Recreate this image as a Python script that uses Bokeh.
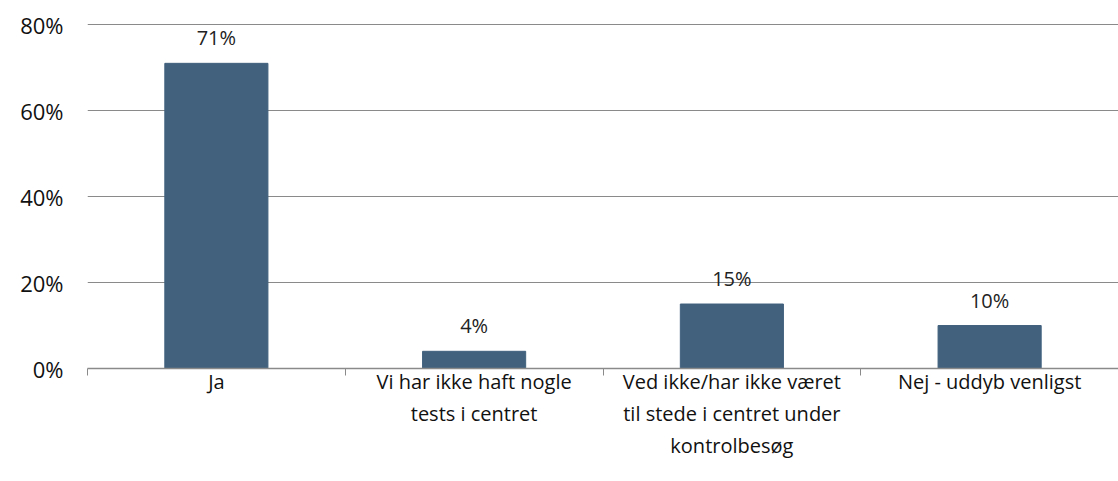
from bokeh.plotting import figure
from bokeh.models import Range1d, FixedTicker, ColumnDataSource, LabelSet
from bokeh.core.properties import value
from bokeh.embed import file_html
from bokeh.resources import INLINE

categories = ["Ja", "Vi har ikke haft nogle\ntests i centret",
              "Ved ikke/har ikke været\ntil stede i centret under\nkontrolbesøg",
              "Nej - uddyb venligst"]
values = [71, 4, 15, 10]
y_ticks = [0, 20, 40, 60, 80]

n = len(categories)
xs = [i + 0.5 for i in range(n)]
src = ColumnDataSource(dict(x=xs, top=values, lab=[f"{v}%" for v in values]))

FONT = "Open Sans"

p = figure(width=1118, height=481, output_backend="svg", toolbar_location=None,
           x_range=Range1d(0, n), y_range=Range1d(0, 80.5),
           min_border_left=87, min_border_right=0, min_border_top=22, min_border_bottom=113)
p.outline_line_color = None
p.background_fill_color = "white"
p.border_fill_color = "white"

p.vbar(x="x", top="top", width=0.4, source=src, color="#41617d")
labels = LabelSet(x="x", y="top", text="lab", source=src, text_align="center",
                  text_baseline="bottom", y_offset=12, text_font=value(FONT),
                  text_font_size="20px", text_color="#222222")
p.add_layout(labels)

p.xgrid.visible = False
p.ygrid.ticker = FixedTicker(ticks=y_ticks)
p.ygrid.grid_line_color = "#8a8a8a"
p.ygrid.grid_line_width = 1

p.yaxis.ticker = FixedTicker(ticks=y_ticks)
p.yaxis.major_label_overrides = {t: f"{t}%" for t in y_ticks}
p.yaxis.axis_line_color = None
p.yaxis.major_tick_line_color = None
p.yaxis.major_tick_out = 0
p.yaxis.minor_tick_line_color = None
p.yaxis.minor_tick_out = 0
p.yaxis.major_label_text_font = FONT
p.yaxis.major_label_text_font_size = "22px"
p.yaxis.major_label_text_color = "#111111"
p.yaxis.major_label_standoff = 24

p.xaxis.ticker = FixedTicker(ticks=xs, minor_ticks=list(range(n + 1)))
p.xaxis.major_label_overrides = {x: c for x, c in zip(xs, categories)}
p.xaxis.axis_line_color = "#8a8a8a"
p.xaxis.axis_line_width = 1.5
p.xaxis.major_tick_line_color = None
p.xaxis.major_tick_out = 0
p.xaxis.minor_tick_line_color = "#8a8a8a"
p.xaxis.minor_tick_in = 0
p.xaxis.minor_tick_out = 7
p.xaxis.major_label_text_font = FONT
p.xaxis.major_label_text_font_size = "20px"
p.xaxis.major_label_text_color = "#111111"
p.xaxis.major_label_standoff = -8

open("out.html", "w").write(file_html(p, INLINE))
